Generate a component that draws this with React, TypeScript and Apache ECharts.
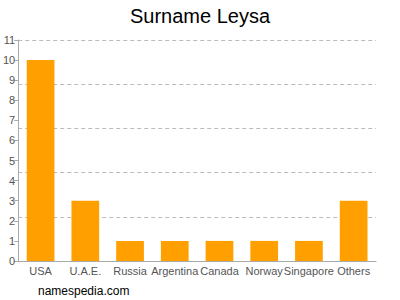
import React, { useEffect, useRef } from "react";
import * as echarts from "echarts";

const categories = ["USA", "U.A.E.", "Russia", "Argentina", "Canada", "Norway", "Singapore", "Others"];
const values = [10, 3, 1, 1, 1, 1, 1, 3];
const titleText = "Surname Leysa";
const footerText = "namespedia.com";

export default function App() {
  const ref = useRef<HTMLDivElement>(null);
  useEffect(() => {
    const chart = echarts.init(ref.current!, null, { renderer: "svg" });
    const font = "'Liberation Sans', Arial, sans-serif";
    chart.setOption({
      animation: false,
      title: {
        text: titleText,
        left: "center",
        top: 1,
        textStyle: { fontFamily: font, fontSize: 20, fontWeight: "normal", color: "#000" },
      },
      graphic: [
        {
          type: "text",
          left: 38,
          top: 285,
          style: { text: footerText, fontFamily: font, fontSize: 12, fill: "#000" },
        },
      ],
      grid: { left: 17, right: 24, top: 40, bottom: 39, containLabel: false },
      xAxis: {
        type: "category",
        data: categories,
        axisLine: { lineStyle: { color: "#aaa" } },
        axisTick: { alignWithLabel: true, length: 4, lineStyle: { color: "#aaa" } },
        axisLabel: { fontFamily: font, fontSize: 11, color: "#555", margin: 4, interval: 0 },
      },
      yAxis: [
        {
          type: "value",
          min: 0,
          max: 11,
          interval: 1,
          axisLine: { show: true, lineStyle: { color: "#aaa" } },
          axisTick: { show: true, length: 4, lineStyle: { color: "#aaa" } },
          axisLabel: { fontFamily: font, fontSize: 11, color: "#555", margin: 3 },
          splitLine: { show: false },
        },
        {
          type: "value",
          min: 0,
          max: 11,
          interval: 2.2,
          position: "left",
          axisLine: { show: false },
          axisTick: { show: false },
          axisLabel: { show: false },
          splitLine: { show: true, lineStyle: { color: "#bbb", type: [4, 3] } },
        },
      ],
      series: [
        {
          type: "bar",
          data: values,
          barWidth: "62%",
          itemStyle: { color: "#FFA000" },
        },
      ],
    });
    return () => chart.dispose();
  }, []);
  return <div ref={ref} style={{ width: 400, height: 300, position: "absolute", left: 0, top: 0 }} />;
}
